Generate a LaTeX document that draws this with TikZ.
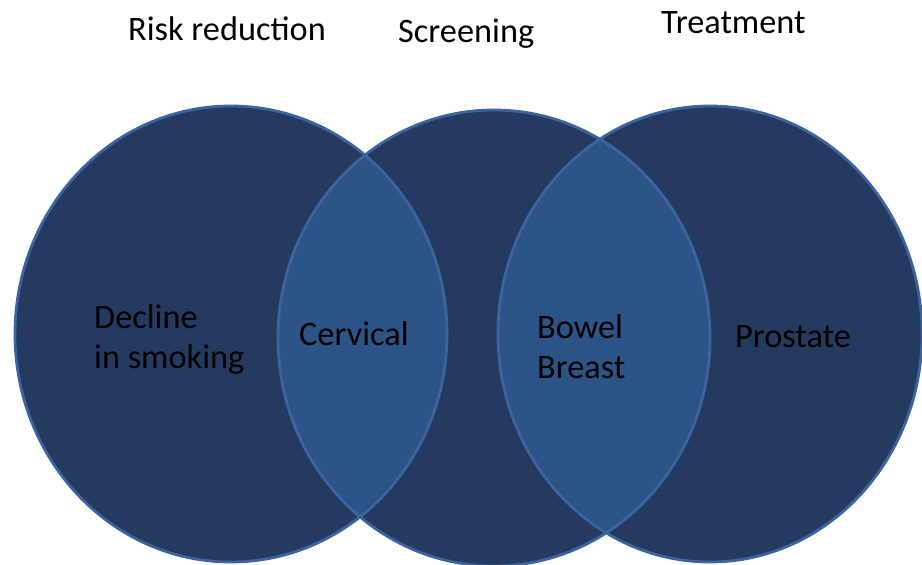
\documentclass[tikz,border=0pt]{standalone}
\usepackage{fontspec}
\setmainfont{Carlito}
\definecolor{vdark}{HTML}{243A5E}
\definecolor{vlens}{HTML}{2D5486}
\definecolor{vedge}{HTML}{3B64A0}
\begin{document}
\begin{tikzpicture}[x=1pt,y=-1pt,
  venn/.style={fill=vdark},
  vennedge/.style={draw=vedge,line width=2.8pt},
  lbl/.style={anchor=base west,inner sep=0pt,font=\fontsize{34.3}{40}\selectfont,text=black},
  ttl/.style={anchor=base west,inner sep=0pt,font=\fontsize{34.3}{40}\selectfont,text=black}]
\useasboundingbox (0,0) rectangle (922,565);
\fill[white] (0,0) rectangle (922,565);
% circles
\fill[venn] (231,334) ellipse [x radius=216, y radius=228];
\fill[venn] (494,338) ellipse [x radius=216, y radius=228];
\fill[venn] (710,334) ellipse [x radius=212, y radius=228];
% lenses
\begin{scope}
  \clip (231,334) ellipse [x radius=216, y radius=228];
  \fill[vlens] (494,338) ellipse [x radius=216, y radius=228];
\end{scope}
\begin{scope}
  \clip (710,334) ellipse [x radius=212, y radius=228];
  \fill[vlens] (494,338) ellipse [x radius=216, y radius=228];
\end{scope}
% outlines
\draw[vennedge] (231,334) ellipse [x radius=216, y radius=228];
\draw[vennedge] (494,338) ellipse [x radius=216, y radius=228];
\draw[vennedge] (710,334) ellipse [x radius=212, y radius=228];
% titles
\node[ttl] (t1) at (128,40) {Risk reduction};
\node[ttl] (t2) at (398,42) {Screening};
\node[ttl] (t3) at (661,33) {Treatment};
% labels
\node[lbl] (d1) at (94,328) {Decline};
\node[lbl] (d2) at (94,368) {in smoking};
\node[lbl] (cv) at (299,345) {Cervical};
\node[lbl] (bw) at (537,338) {Bowel};
\node[lbl] (br) at (537,378) {Breast};
\node[lbl] (pr) at (735,347) {Prostate};
\end{tikzpicture}
\end{document}
